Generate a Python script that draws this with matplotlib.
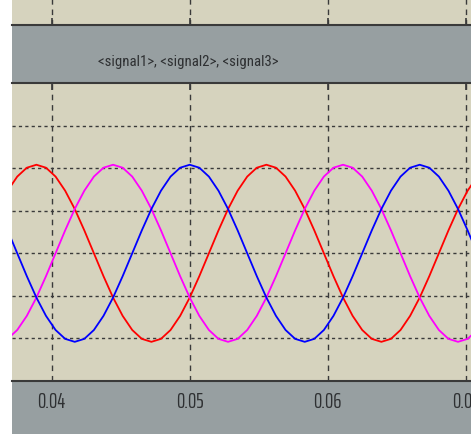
import numpy as np
import matplotlib
matplotlib.use("Agg")
import matplotlib.pyplot as plt
from matplotlib.patches import Rectangle

t_start = 0.05 - 19 / 1440
t_step = 1 / 1440
signal1 = [0.735, 0.901, 1.005, 1.040, 1.005, 0.901, 0.735, 0.520, 0.269, 0.000,
           -0.269, -0.520, -0.735, -0.901, -1.005, -1.040, -1.005, -0.901, -0.735, -0.520,
           -0.269, 0.000, 0.269, 0.520, 0.735, 0.901, 1.005, 1.040, 1.005, 0.901,
           0.735, 0.520, 0.269, 0.000, -0.269, -0.520, -0.735, -0.901, -1.005, -1.040,
           -1.005, -0.901, -0.735, -0.520, -0.269, 0.000, 0.269, 0.520, 0.735, 0.901]
signal2 = [-1.005, -0.901, -0.735, -0.520, -0.269, 0.000, 0.269, 0.520, 0.735, 0.901,
           1.005, 1.040, 1.005, 0.901, 0.735, 0.520, 0.269, 0.000, -0.269, -0.520,
           -0.735, -0.901, -1.005, -1.040, -1.005, -0.901, -0.735, -0.520, -0.269, 0.000,
           0.269, 0.520, 0.735, 0.901, 1.005, 1.040, 1.005, 0.901, 0.735, 0.520,
           0.269, 0.000, -0.269, -0.520, -0.735, -0.901, -1.005, -1.040, -1.005, -0.901]
signal3 = [0.269, 0.000, -0.269, -0.520, -0.735, -0.901, -1.005, -1.040, -1.005, -0.901,
           -0.735, -0.520, -0.269, 0.000, 0.269, 0.520, 0.735, 0.901, 1.005, 1.040,
           1.005, 0.901, 0.735, 0.520, 0.269, 0.000, -0.269, -0.520, -0.735, -0.901,
           -1.005, -1.040, -1.005, -0.901, -0.735, -0.520, -0.269, 0.000, 0.269, 0.520,
           0.735, 0.901, 1.005, 1.040, 1.005, 0.901, 0.735, 0.520, 0.269, 0.000]
x_ticks = [0.04, 0.05, 0.06, 0.07]
x_tick_labels = ["0.04", "0.05", "0.06", "0.07"]
y_grid = [-1.0, -0.5, 0.0, 0.5, 1.0, 1.5]
title = "<signal1>, <signal2>, <signal3>"

t = t_start + t_step * np.arange(len(signal1))

# ---- style
BEIGE = "#d6d3be"
GRAY = "#979fa1"
DARK = "#3a3a3a"
TXT = "#2e3032"
TICK_FONT = ["Saira ExtraCondensed", "DejaVu Sans"]
TITLE_FONT = ["Roboto Condensed", "DejaVu Sans"]

W, H = 471, 435
fig = plt.figure(figsize=(W / 100, H / 100), dpi=100, facecolor="white")
fig.patches.append(Rectangle((12 / W, 0), 1, 1, transform=fig.transFigure,
                             facecolor=GRAY, edgecolor="none", zorder=-10))

xlim = (0.03712, 0.070384)

def style_axes(a, ygrid=True):
    a.set_facecolor(BEIGE)
    a.set_xlim(*xlim)
    a.set_xticks(x_ticks)
    a.set_yticks(y_grid)
    for s in ("left", "right"):
        a.spines[s].set_visible(False)
    for s in ("top", "bottom"):
        a.spines[s].set_color(DARK)
        a.spines[s].set_linewidth(1.5)
    a.xaxis.grid(True, color=DARK, linewidth=1.0, linestyle=(0, (4, 3.5)))
    if ygrid:
        a.yaxis.grid(True, color=DARK, linewidth=1.0, linestyle=(0, (2.3, 2.3)))
    a.tick_params(axis="y", left=False, labelleft=False)
    a.set_axisbelow(True)

# upper (cut-off) scope axes
ax_top = fig.add_axes([12 / W, (H - 25.5) / H, (W - 12) / W, 0.2])
style_axes(ax_top, ygrid=False)
ax_top.set_ylim(-1.5, 2.0)
ax_top.tick_params(axis="x", direction="in", length=5, width=1.2, color=DARK,
                   bottom=True, top=False, labelbottom=False)

# main axes
ax = fig.add_axes([12 / W, (H - 382) / H, (W - 12) / W, 298 / H])
style_axes(ax)
ax.set_ylim(-1.5, 2.0)
ax.plot(t, signal1, color="#ff0000", linewidth=1.3)
ax.plot(t, signal2, color="#ff00ff", linewidth=1.3)
ax.plot(t, signal3, color="#0000ff", linewidth=1.3)
ax.set_xticklabels(x_tick_labels, fontfamily=TICK_FONT, fontsize=15, color=TXT)
ax.tick_params(axis="x", direction="in", length=5, width=1.2, color=DARK,
               top=True, bottom=False, pad=7.5)

fig.text(98 / W, 1 - 62 / H, title, ha="left", va="center",
         fontfamily=TITLE_FONT, fontsize=10.6, color=TXT)

fig.savefig("out.png", dpi=100, facecolor="white")
